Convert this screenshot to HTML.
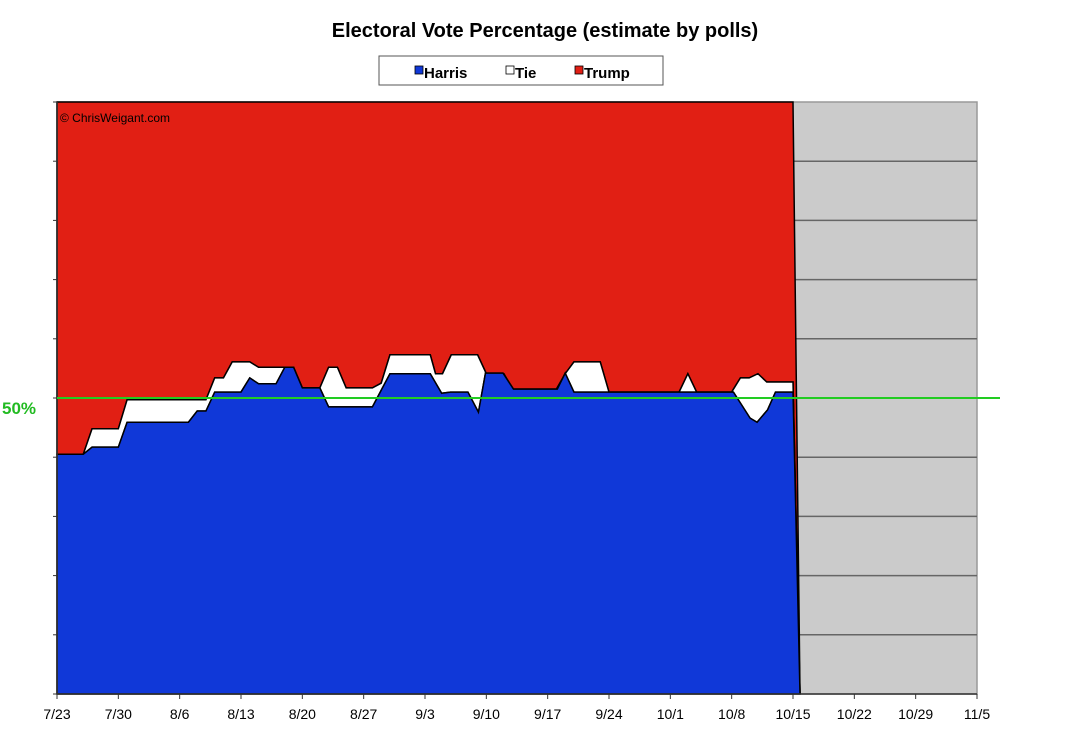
<!DOCTYPE html>
<html><head><meta charset="utf-8"><style>
html,body{margin:0;padding:0;background:#fff;}
svg{display:block;font-family:"Liberation Sans",Arial,sans-serif;}
</style></head><body>
<svg id="chart" width="1080" height="732" viewBox="0 0 1080 732" xmlns="http://www.w3.org/2000/svg">
<text x="545" y="37" text-anchor="middle" font-size="20" font-weight="bold" fill="#000">Electoral Vote Percentage (estimate by polls)</text>
<g>
<rect x="379" y="56" width="284" height="29" fill="#fff" stroke="#555" stroke-width="1"/>
<g><rect x="415" y="66" width="8" height="8" fill="#1038d8" stroke="#000" stroke-width="0.8"/><text x="424" y="78" font-size="15" font-weight="bold">Harris</text></g>
<g><rect x="506" y="66" width="8" height="8" fill="#fff" stroke="#000" stroke-width="0.8"/><text x="515" y="78" font-size="15" font-weight="bold">Tie</text></g>
<g><rect x="575" y="66" width="8" height="8" fill="#e11f14" stroke="#000" stroke-width="0.8"/><text x="584" y="78" font-size="15" font-weight="bold">Trump</text></g>
</g>
<g id="plot"></g>
</svg>
<script>
const tickLabels=["7/23","7/30","8/6","8/13","8/20","8/27","9/3","9/10","9/17","9/24","10/1","10/8","10/15","10/22","10/29","11/5"];
const harrisDays=[0,3,4,7,8,15,16,17,18,21,22,23,25,26,27,28,30,31,36,38,42.6,43.9,44.9,46.9,48.1,48.9,50.9,52.1,57.1,58,59,77.2,79.1,79.9,81.1,82,84,84.8];
const harrisPct=[40.5,40.5,41.7,41.7,45.9,45.9,47.8,47.8,51,51,53.4,52.4,52.4,55.2,55.2,51.7,51.7,48.5,48.5,54.1,54.1,50.8,51,51,47.6,54.2,54.2,51.5,51.5,54.2,51,51,46.6,45.9,48,51,51,0];
const trumpDays=[0,3,4,7,8,17,18,19,20,22,23,27,28,30,31,32,33,36,37,38,42.6,43.2,44,45,48,49,51,52,57,58,59,62,63,71,72,73,77,78,79,80,81,84,84.8];
const trumpPct=[59.5,59.5,55.2,55.2,50.3,50.3,46.6,46.6,43.9,43.9,44.8,44.8,48.3,48.3,44.8,44.8,48.3,48.3,47.5,42.7,42.7,45.9,45.9,42.7,42.7,45.9,45.9,48.5,48.5,45.9,43.9,43.9,49,49,45.9,49,49,46.6,46.6,45.9,47.3,47.3,100];
const X0=57,X1=977,Y0=694,Y1=102,DAYS=105;
const xs=d=>X0+(X1-X0)*d/DAYS;
const ys=p=>Y0-(Y0-Y1)*p/100;
const NS="http://www.w3.org/2000/svg";
const plot=document.getElementById('plot');
function mk(tag,attrs){const e=document.createElementNS(NS,tag);for(const k in attrs)e.setAttribute(k,attrs[k]);plot.appendChild(e);return e;}
// gray future region
let e=mk('rect',{x:X0,y:Y1,width:X1-X0,height:Y0-Y1,fill:'#cbcbcb',stroke:'#999','stroke-width':1.5});


for(let p=10;p<100;p+=10){
 e=mk('line',{x1:X0,x2:X1,y1:ys(p),y2:ys(p),stroke:'#666','stroke-width':1.5});
 
 
}
const last=trumpDays[trumpDays.length-1];
// trump area: top of plot down to trump boundary
let tp=`M${xs(0)},${Y1} L${xs(harrisDays[harrisDays.length-2])},${Y1} L${xs(last)},${Y0} `;
for(let i=trumpDays.length-1;i>=0;i--)tp+=`L${xs(trumpDays[i])},${ys(100-trumpPct[i])} `;
e=mk('path',{d:tp+'Z',fill:'#e11f14',stroke:'#000','stroke-width':1.5});


// tie area (white) between trump boundary and harris
let wp='';
trumpDays.forEach((d,i)=>wp+=(i?'L':'M')+xs(d)+','+ys(100-trumpPct[i])+' ');
for(let i=harrisDays.length-1;i>=0;i--)wp+=`L${xs(harrisDays[i])},${ys(harrisPct[i])} `;
e=mk('path',{d:wp+'Z',fill:'#fff',stroke:'#000','stroke-width':1.5});


// harris area
let hp=`M${xs(0)},${Y0} `;
harrisDays.forEach((d,i)=>hp+=`L${xs(d)},${ys(harrisPct[i])} `);
e=mk('path',{d:hp+'Z',fill:'#1038d8',stroke:'#000','stroke-width':1.5});


// axes
e=mk('line',{x1:X0,x2:X0,y1:Y1,y2:Y0,stroke:'#333','stroke-width':1.5});


e=mk('line',{x1:X0,x2:X1,y1:Y0,y2:Y0,stroke:'#333','stroke-width':1.5});


for(let p=0;p<=100;p+=10){
 e=mk('line',{x1:X0-4,x2:X0,y1:ys(p),y2:ys(p),stroke:'#333','stroke-width':1});
 
 
}
tickLabels.forEach((t,i)=>{
 e=mk('line',{x1:xs(i*7),x2:xs(i*7),y1:Y0,y2:Y0+5,stroke:'#333','stroke-width':1});
 
 
 e=mk('text',{x:xs(i*7),y:719,'text-anchor':'middle','font-size':14,fill:'#000'});
 e.textContent=t;
 
 
});
// 50% line
e=mk('line',{x1:X0,x2:1000,y1:ys(50),y2:ys(50),stroke:'#22cc22','stroke-width':2});


e=mk('text',{x:2,y:414,'font-size':17,'font-weight':'bold',fill:'#22bb22'});
e.textContent='50%';


e=mk('text',{x:60,y:122,'font-size':12,fill:'#000'});
e.textContent='© ChrisWeigant.com';


</script>
</body></html>
